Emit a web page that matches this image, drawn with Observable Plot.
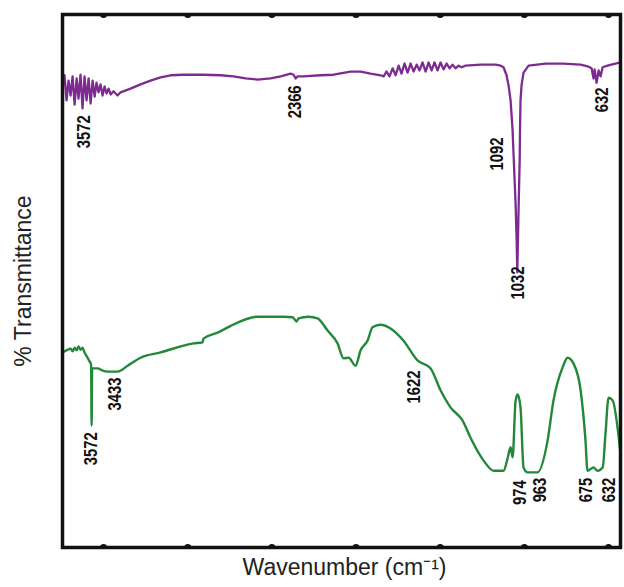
<!DOCTYPE html>
<html>
<head>
<meta charset="utf-8">
<script src="https://cdn.jsdelivr.net/npm/d3@7"></script>
<script src="https://cdn.jsdelivr.net/npm/@observablehq/plot@0.6"></script>
<style>
  html, body { margin: 0; padding: 0; background: #fff; }
  #chart { width: 624px; height: 587px; }
</style>
</head>
<body>
<div id="chart"></div>
<script>
// Upper (purple) spectrum: wavenumber (cm-1) and relative % transmittance
const purpleWavenumber = [3744,3732,3720,3708,3696,3684,3672,3660,3649,3637,3625,3613,3601,3589,3577,3565,3553,3542,3530,3518,3506,3494,3482,3470,3458,3441,3417,3399,3340,3280,3221,3161,3102,3025,2906,2805,2728,2656,2585,2508,2448,2389,2371,2359,2347,2312,2211,2134,2033,1973,1914,1854,1836,1819,1801,1783,1765,1747,1730,1712,1694,1676,1658,1640,1623,1605,1587,1569,1551,1534,1516,1498,1480,1462,1444,1427,1409,1391,1373,1349,1260,1171,1141,1124,1106,1094,1082,1076,1070,1064,1058,1052,1046,1042,1039,1034,1028,1026,1023,1017,1005,975,874,767,666,619,601,589,583,571,559,547,535,506,459,429];
const purpleTransmittance = [86.1,88.6,83.9,87.6,84.8,88.4,83.1,88.0,84.2,88.7,82.4,88.4,83.9,88.0,83.3,87.6,84.6,87.2,85.4,86.9,84.8,86.5,85.2,86.1,85.0,85.6,84.8,85.4,86.1,86.9,87.6,88.2,88.6,88.7,88.7,88.6,88.4,88.0,87.8,88.0,88.4,88.9,88.7,88.0,88.4,88.4,88.6,88.7,89.3,89.3,88.9,88.6,88.4,89.3,88.4,89.9,88.6,90.4,88.9,90.8,89.1,90.8,89.3,90.6,89.5,91.0,89.3,91.0,89.5,91.0,89.5,91.0,89.7,90.8,89.9,90.6,89.9,90.4,90.1,90.4,90.6,90.6,90.4,90.1,88.6,86.7,83.9,81.1,78.2,73.5,68.9,64.2,57.6,51.6,56.7,64.2,72.6,78.2,83.9,86.7,89.1,90.4,90.8,90.8,90.6,90.2,89.9,88.0,89.7,87.2,89.5,88.4,90.1,90.4,90.8,91.0];

// Lower (green) spectrum
const greenWavenumber = [3744,3720,3696,3684,3672,3660,3649,3637,3625,3613,3595,3583,3574,3571,3568,3559,3536,3506,3476,3417,3357,3280,3161,2965,2912,2906,2823,2704,2585,2431,2377,2353,2342,2282,2229,2169,2110,2074,2044,2003,1973,1932,1902,1854,1795,1718,1635,1557,1498,1439,1367,1320,1242,1183,1124,1100,1082,1070,1052,1040,1023,1005,981,922,862,827,773,743,708,666,637,625,589,565,535,518,500,476,429];
const greenTransmittance = [36.6,37.0,37.3,36.8,37.5,37.0,37.7,37.1,37.5,36.6,35.6,34.9,34.3,22.9,33.6,33.6,33.6,33.2,33.0,33.0,34.1,35.6,36.6,38.3,38.5,39.2,40.3,42.2,43.3,43.3,43.2,42.4,43.0,43.3,43.0,40.7,38.3,35.5,35.6,34.1,37.0,38.8,41.3,41.8,41.1,38.8,35.1,33.6,29.5,26.3,23.8,20.6,16.3,14.4,14.4,16.7,18.8,16.9,27.6,28.7,26.3,15.0,14.1,14.1,20.1,27.6,33.8,35.6,34.5,29.5,20.1,14.4,15.0,14.4,15.0,21.4,28.1,27.6,17.6];

// Peak annotations
const peakText = ["3572","2366","1092","1032","632","3572","3433","1622","974","963","675","632"];
const peakSeries = ["purple","purple","purple","purple","purple","green","green","green","green","green","green","green"];
const peakLabelWavenumber = [3619,2365,1165,1040,541,3577,3435,1658,1029,910,637,500];
const peakLabelTransmittance = [81.1,86.7,76.9,52.7,86.3,21.6,31.9,33.2,12.6,13.1,13.1,13.1];

// Axis ticks (unlabelled)
const tickWavenumbers = [3500, 3000, 2500, 2000, 1500, 1000, 500];

const purple = purpleWavenumber.map((w, i) => ({w, t: purpleTransmittance[i]}));
const green = greenWavenumber.map((w, i) => ({w, t: greenTransmittance[i]}));
const peaks = peakText.map((text, i) => ({text, series: peakSeries[i], w: peakLabelWavenumber[i], t: peakLabelTransmittance[i]}));

const chart = Plot.plot({
  width: 624,
  height: 587,
  marginLeft: 62,
  marginRight: 4,
  marginTop: 14,
  marginBottom: 40,
  style: {fontFamily: "'Liberation Sans', Arial, sans-serif", background: "#fff", color: "#111"},
  x: {domain: [3744, 429], axis: null},
  y: {domain: [0, 100], axis: null},
  marks: [
    Plot.line(purple, {x: "w", y: "t", stroke: "#7d2b90", strokeWidth: 2.3, strokeLinejoin: "round"}),
    Plot.line(green, {x: "w", y: "t", stroke: "#23883a", strokeWidth: 2.4, curve: "monotone-x"}),
    Plot.dot(tickWavenumbers, {x: d => d, y: () => 0, r: 3.5, fill: "#111", clip: true}),
    Plot.dot(tickWavenumbers, {x: d => d, y: () => 100, r: 3.5, fill: "#111", clip: true}),
    Plot.frame({stroke: "#111", strokeWidth: 3.5}),
    Plot.text(peaks, {x: "w", y: "t", text: "text", rotate: -90, textAnchor: "end", lineAnchor: "middle",
      fontSize: 19, fontWeight: "bold", fontFamily: "'Liberation Sans', Arial, sans-serif", fill: "#111",
      className: "peak-labels"}),
    Plot.text(["% Transmittance"], {frameAnchor: "left", dx: -39, rotate: -90, textAnchor: "middle", lineAnchor: "middle",
      fontSize: 23, fill: "#222"}),
    Plot.text(["Wavenumber (cm\u207B\u00B9)"], {frameAnchor: "bottom", dx: 3, dy: 20, textAnchor: "middle", lineAnchor: "middle",
      fontSize: 23, fill: "#222"})
  ]
});
// condensed look for the peak labels (compress along the text direction)
d3.select(chart).selectAll(".peak-labels text").each(function () {
  const tr = this.getAttribute("transform") || "";
  this.setAttribute("transform", tr + " scale(0.78,1)");
});
document.getElementById("chart").appendChild(chart);
</script>
</body>
</html>
